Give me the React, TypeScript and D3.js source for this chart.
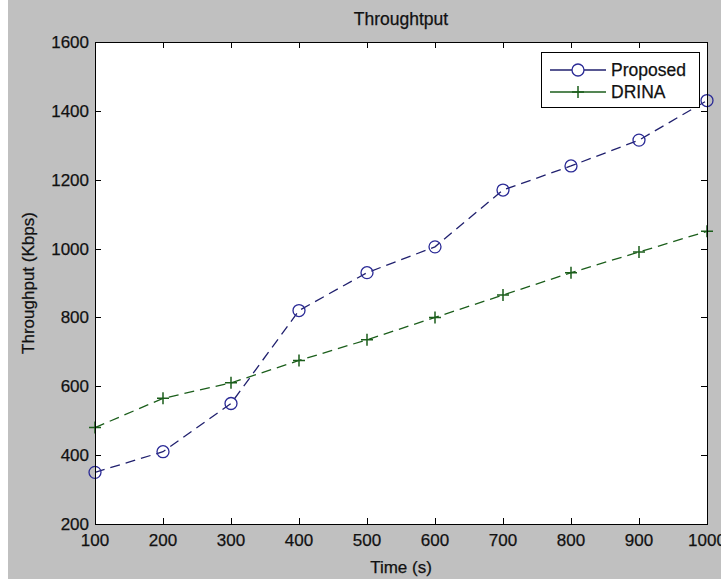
import { useEffect, useRef } from 'react';
import * as d3 from 'd3';

const times = [100, 200, 300, 400, 500, 600, 700, 800, 900, 1000];
const proposed = [350, 410, 550, 820, 930, 1005, 1170, 1240, 1315, 1430];
const drina = [480, 565, 610, 675, 735, 800, 865, 930, 990, 1050];
const xTicks = [100, 200, 300, 400, 500, 600, 700, 800, 900, 1000];
const yTicks = [200, 400, 600, 800, 1000, 1200, 1400, 1600];
const seriesNames = ['Proposed', 'DRINA'];

const FONT = '"Liberation Sans", Arial, sans-serif';

export default function App() {
    const svgRef = useRef<SVGSVGElement>(null);

    useEffect(() => {
        const svg = d3.select(svgRef.current);
        svg.selectAll('*').remove();

        const width = 721;
        const height = 579;
        const box = { left: 95, right: 707, top: 42, bottom: 524 };

        // figure background
        svg.append('rect').attr('width', width).attr('height', height).attr('fill', '#ffffff');
        svg.append('rect').attr('x', 8).attr('width', width - 8).attr('height', height).attr('fill', '#c0c0c0');

        const x = d3.scaleLinear().domain([100, 1000]).range([box.left, box.right]);
        const y = d3.scaleLinear().domain([200, 1600]).range([box.bottom, box.top]);

        svg.append('rect')
            .attr('x', box.left).attr('y', box.top)
            .attr('width', box.right - box.left).attr('height', box.bottom - box.top)
            .attr('fill', '#ffffff');

        // ticks (inward, all four sides)
        const tick = 6;
        const ticks = svg.append('g').attr('stroke', '#000').attr('stroke-width', 1);
        xTicks.forEach((t) => {
            const px = Math.round(x(t)) + 0.5;
            ticks.append('line').attr('x1', px).attr('x2', px).attr('y1', box.bottom).attr('y2', box.bottom - tick);
            ticks.append('line').attr('x1', px).attr('x2', px).attr('y1', box.top).attr('y2', box.top + tick);
        });
        yTicks.forEach((t) => {
            const py = Math.round(y(t)) + 0.5;
            ticks.append('line').attr('x1', box.left).attr('x2', box.left + tick).attr('y1', py).attr('y2', py);
            ticks.append('line').attr('x1', box.right).attr('x2', box.right - tick).attr('y1', py).attr('y2', py);
        });

        const textStyle = (sel: any, size = 17) => sel
            .attr('font-family', FONT)
            .attr('font-size', size)
            .attr('fill', '#111')
            .attr('stroke', '#111')
            .attr('stroke-width', 0.25);

        // tick labels
        svg.append('g')
            .selectAll('text')
            .data(xTicks)
            .join('text')
            .attr('x', (d) => x(d))
            .attr('y', box.bottom + 22)
            .attr('text-anchor', 'middle')
            .call(textStyle)
            .text((d) => d);

        svg.append('g')
            .selectAll('text')
            .data(yTicks)
            .join('text')
            .attr('x', box.left - 6)
            .attr('y', (d) => y(d) + 6)
            .attr('text-anchor', 'end')
            .call(textStyle)
            .text((d) => d);

        // series
        const series = [
            { name: seriesNames[0], values: proposed, color: '#20206e', marker: 'circle' },
            { name: seriesNames[1], values: drina, color: '#1b5e1b', marker: 'plus' },
        ];

        const line = d3.line<number>()
            .x((_, i) => x(times[i]))
            .y((d) => y(d));

        const plot = svg.append('g');
        series.forEach((s) => {
            plot.append('path')
                .attr('d', line(s.values))
                .attr('fill', 'none')
                .attr('stroke', s.color)
                .attr('stroke-width', 1.3)
                .attr('stroke-dasharray', '10,6');
            s.values.forEach((v, i) => {
                const cx = x(times[i]);
                const cy = y(v);
                if (s.marker === 'circle') {
                    plot.append('circle').attr('cx', cx).attr('cy', cy).attr('r', 6)
                        .attr('fill', 'none').attr('stroke', '#2a2a96').attr('stroke-width', 1.3);
                } else {
                    plot.append('path')
                        .attr('d', `M${cx - 6},${cy}H${cx + 6}M${cx},${cy - 6}V${cy + 6}`)
                        .attr('stroke', s.color).attr('stroke-width', 1.5);
                }
            });
        });

        // axes box
        svg.append('rect')
            .attr('x', box.left + 0.5).attr('y', box.top + 0.5)
            .attr('width', box.right - box.left).attr('height', box.bottom - box.top)
            .attr('fill', 'none').attr('stroke', '#000').attr('stroke-width', 1);

        // legend
        const lg = svg.append('g');
        lg.append('rect')
            .attr('x', 541.5).attr('y', 52.5).attr('width', 158).attr('height', 55)
            .attr('fill', '#fff').attr('stroke', '#000');
        series.forEach((s, i) => {
            const ly = 70 + i * 22;
            lg.append('line').attr('x1', 550).attr('x2', 606).attr('y1', ly).attr('y2', ly)
                .attr('stroke', s.color).attr('stroke-width', 1.3);
            if (s.marker === 'circle') {
                lg.append('circle').attr('cx', 578).attr('cy', ly).attr('r', 6)
                    .attr('fill', '#fff').attr('stroke', '#2a2a96').attr('stroke-width', 1.3);
            } else {
                lg.append('path').attr('d', `M572,${ly}H584M578,${ly - 6}V${ly + 6}`)
                    .attr('stroke', s.color).attr('stroke-width', 1.5);
            }
            lg.append('text')
                .attr('x', 611).attr('y', ly + 6)
                .call(textStyle, 17.5)
                .text(s.name);
        });

        // title and axis labels
        const cx = (box.left + box.right) / 2;
        svg.append('text')
            .attr('x', cx).attr('y', 25)
            .attr('text-anchor', 'middle')
            .call(textStyle, 17.5)
            .text('Throughtput');

        svg.append('text')
            .attr('x', cx).attr('y', 573)
            .attr('text-anchor', 'middle')
            .call(textStyle)
            .text('Time (s)');

        svg.append('text')
            .attr('transform', `translate(34,${(box.top + box.bottom) / 2}) rotate(-90)`)
            .attr('text-anchor', 'middle')
            .call(textStyle)
            .text('Throughput (Kbps)');
    }, []);

    return (
        <svg
            ref={svgRef}
            width={721}
            height={579}
            style={{ position: 'absolute', left: 0, top: 0, display: 'block' }}
        />
    );
}
